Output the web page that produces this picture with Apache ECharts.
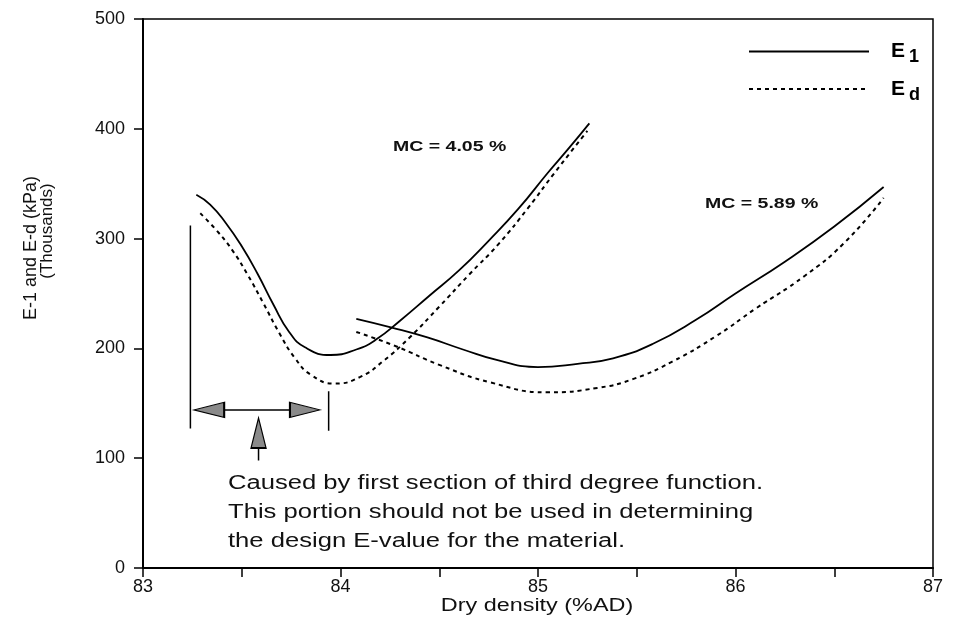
<!DOCTYPE html>
<html><head><meta charset="utf-8">
<script src="https://cdn.jsdelivr.net/npm/echarts@6/dist/echarts.min.js"></script>
<style>html,body{margin:0;padding:0;background:#fff}#c{width:955px;height:639px}</style>
</head><body><div id="c"></div>
<script>
// ---- axis ticks ----
const xTickLabels = [83, 84, 85, 86, 87];
const yTickLabels = [0, 100, 200, 300, 400, 500];

// ---- MC = 4.05 % ----
const e1Mc405X = [83.27, 83.34, 83.42, 83.50, 83.58, 83.66, 83.74, 83.82, 83.95, 84.08, 84.18, 84.30, 84.45, 84.60, 84.75, 84.90, 85.05, 85.15, 85.26];
const e1Mc405Y = [340, 331, 314, 293, 268, 240, 215, 201, 194, 199, 208, 225, 248, 271, 298, 327, 360, 381, 405];
const edMc405X = [83.29, 83.37, 83.45, 83.53, 83.61, 83.69, 83.77, 83.85, 83.97, 84.10, 84.22, 84.35, 84.50, 84.65, 84.80, 84.95, 85.08, 85.25];
const edMc405Y = [323, 308, 290, 267, 241, 214, 191, 176, 168, 174, 189, 210, 238, 267, 295, 328, 359, 398];

// ---- MC = 5.89 % ----
const e1Mc589X = [84.08, 84.26, 84.44, 84.62, 84.80, 85.00, 85.20, 85.38, 85.58, 85.80, 86.00, 86.25, 86.50, 86.75];
const e1Mc589Y = [227, 219, 210, 199, 189, 183, 186, 191, 204, 226, 250, 279, 311, 347];
const edMc589X = [84.08, 84.28, 84.50, 84.76, 85.05, 85.30, 85.48, 85.68, 85.90, 86.10, 86.35, 86.55, 86.75];
const edMc589Y = [215, 202, 185, 169, 160, 164, 172, 188, 211, 236, 266, 296, 337];

// ---- annotation (range marker and arrows) ----
const markerLineX = [83.24, 83.24];
const markerLineY = [127, 312];
const markerLine2X = [83.94, 83.94];
const markerLine2Y = [125, 161];
const rangeArrowX = [83.40, 83.75];
const rangeArrowY = [144, 144];
const upArrowX = [83.585, 83.585];
const upArrowY = [98, 112];
const arrowHeadX = [83.335, 83.82, 83.585];
const arrowHeadY = [144, 144, 123];
const arrowHeadRot = [90, -90, 0];

const noteLines = [
  'Caused by first section of third degree function.',
  'This portion should not be used in determining',
  'the design E-value for the material.'
];

const zip = (xs, ys) => xs.map((x, i) => [x, ys[i]]);
const FONT = 'Liberation Sans, Arial, Helvetica, sans-serif';

const chart = echarts.init(document.getElementById('c'), null, {renderer: 'canvas'});

const curveSolid = {type: 'solid', width: 1.8, color: '#000'};
const curveDot = {type: [4, 4], width: 2, color: '#000'};
const plainLine = {width: 1.5, color: '#000'};

function annLine(xs, ys) {
  return {type: 'line', data: zip(xs, ys), symbol: 'none', silent: true,
          lineStyle: plainLine, z: 3};
}
function stretchedText(x, y, text, font, sx, align) {
  return {type: 'text', x: x, y: y, scaleX: sx, silent: true,
          style: {text: text, font: font, fill: '#111', textAlign: align || 'left', textVerticalAlign: 'middle'}};
}

const option = {
  animation: false,
  backgroundColor: '#fff',
  grid: {left: 143, right: 22, top: 19, bottom: 71, show: true,
         borderColor: '#000', borderWidth: 1.5, backgroundColor: 'transparent'},
  xAxis: {
    type: 'value', min: 83, max: 87, interval: 0.5,
    axisLine: {lineStyle: {color: '#000', width: 2}},
    axisTick: {show: true, length: 9, lineStyle: {color: '#000', width: 1.5}},
    axisLabel: {
      color: '#111', fontFamily: FONT, fontSize: 18, margin: 10,
      formatter: v => (xTickLabels.indexOf(v) >= 0 ? String(v) : '')
    },
    splitLine: {show: false}
  },
  yAxis: {
    type: 'value', min: 0, max: 500, interval: 100,
    axisLine: {show: true, lineStyle: {color: '#000', width: 2}},
    axisTick: {show: true, length: 9, lineStyle: {color: '#000', width: 1.5}},
    axisLabel: {
      color: '#111', fontFamily: FONT, fontSize: 18, margin: 18,
      formatter: v => (yTickLabels.indexOf(v) >= 0 ? String(v) : '')
    },
    splitLine: {show: false}
  },
  legend: {
    data: ['E1', 'Ed'], orient: 'vertical', left: 748, top: 41, padding: 0,
    itemWidth: 120, itemHeight: 14, itemGap: 12,
    itemStyle: {opacity: 0},
    formatter: n => (n === 'E1' ? '{e|E}{s|1}' : '{e|E}{s|d}'),
    textStyle: {
      color: '#000', fontSize: 21, fontWeight: 'bold', padding: [0, 0, 0, 17],
      rich: {
        e: {fontFamily: FONT, fontSize: 21, fontWeight: 'bold', color: '#000'},
        s: {fontFamily: FONT, fontSize: 18, fontWeight: 'bold', color: '#000', padding: [12, 0, 0, 4]}
      }
    }
  },
  graphic: [
    stretchedText(393, 147, 'MC = 4.05 %', 'bold 15px ' + FONT, 1.3),
    stretchedText(705, 204, 'MC = 5.89 %', 'bold 15px ' + FONT, 1.3),
    stretchedText(228, 483, noteLines[0], '20px ' + FONT, 1.28),
    stretchedText(228, 512, noteLines[1], '20px ' + FONT, 1.28),
    stretchedText(228, 541, noteLines[2], '20px ' + FONT, 1.28),
    stretchedText(537, 606, 'Dry density (%AD)', '18px ' + FONT, 1.3, 'center'),
    {type: 'text', x: 31, y: 248, rotation: Math.PI / 2, silent: true,
     style: {text: 'E-1 and E-d (kPa)', font: '18px ' + FONT, fill: '#111', textAlign: 'center', textVerticalAlign: 'middle'}},
    {type: 'text', x: 47, y: 231, rotation: Math.PI / 2, silent: true,
     style: {text: '(Thousands)', font: '17px ' + FONT, fill: '#111', textAlign: 'center', textVerticalAlign: 'middle'}}
  ],
  series: [
    {name: 'E1', type: 'line', data: zip(e1Mc405X, e1Mc405Y), symbol: 'none', smooth: true, lineStyle: curveSolid, itemStyle: {color: '#000'}},
    {name: 'Ed', type: 'line', data: zip(edMc405X, edMc405Y), symbol: 'none', smooth: true, lineStyle: curveDot, itemStyle: {color: '#000'}},
    {name: 'E1', type: 'line', data: zip(e1Mc589X, e1Mc589Y), symbol: 'none', smooth: true, lineStyle: curveSolid, itemStyle: {color: '#000'}},
    {name: 'Ed', type: 'line', data: zip(edMc589X, edMc589Y), symbol: 'none', smooth: true, lineStyle: curveDot, itemStyle: {color: '#000'}},
    annLine(markerLineX, markerLineY),
    annLine(markerLine2X, markerLine2Y),
    annLine(rangeArrowX, rangeArrowY),
    annLine(upArrowX, upArrowY),
    {type: 'scatter', silent: true, z: 4,
     data: arrowHeadX.map((x, i) => ({value: [x, arrowHeadY[i]], symbolRotate: arrowHeadRot[i]})),
     symbol: 'triangle', symbolSize: [15, 30],
     itemStyle: {color: '#8a8a8a', borderColor: '#000', borderWidth: 1.5, opacity: 1}}
  ]
};
chart.setOption(option);
</script>
</body></html>
